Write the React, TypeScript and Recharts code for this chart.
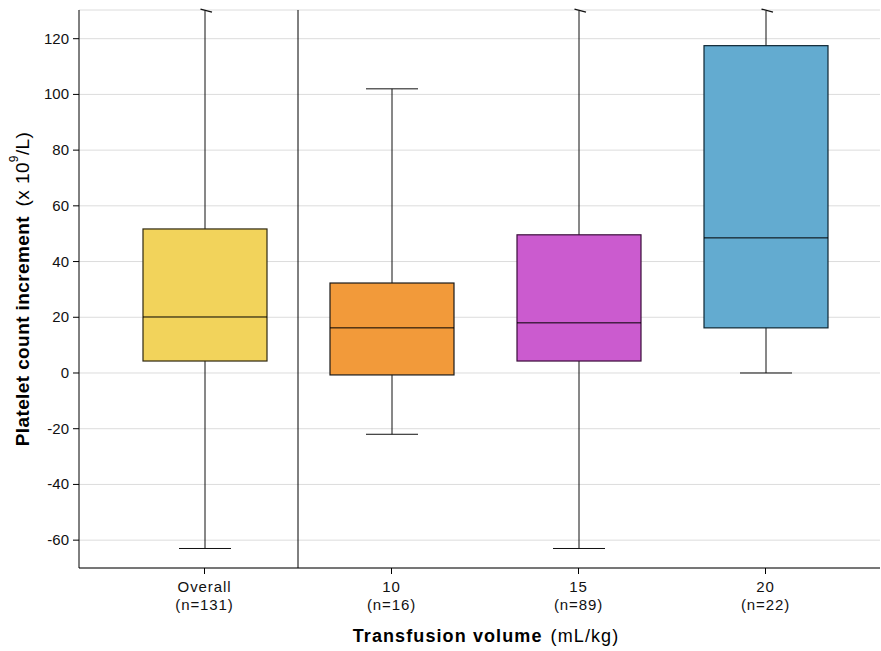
import { Bar, CartesianGrid, Cell, ComposedChart, XAxis, YAxis } from "recharts";

const groups = ["Overall", "10", "15", "20"];
const counts = [131, 16, 89, 22];
const lowers = [-63, -22, -63, 0];
const q1s = [4.3, -0.7, 4.3, 16.2];
const medians = [20.1, 16.2, 18, 48.5];
const q3s = [51.7, 32.3, 49.6, 117.5];
const uppers = [130, 102, 130, 130];
const truncated = [true, false, true, true];
const fills = ["#f2d35b", "#f29a3a", "#cb5bcf", "#63abd0"];
const strokes = ["#2e2812", "#1a1a1a", "#3a0c3a", "#0e2633"];
const yTicks = [-60, -40, -20, 0, 20, 40, 60, 80, 100, 120];

const data = groups.map((g, i) => ({
  name: g,
  n: counts[i],
  range: [lowers[i], uppers[i]],
  lower: lowers[i],
  q1: q1s[i],
  median: medians[i],
  q3: q3s[i],
  upper: uppers[i],
  cut: truncated[i],
  idx: i,
}));

const FONT = "'Liberation Sans', Arial, sans-serif";

function BoxShape(props: any) {
  const { x, y, width, height, payload, background } = props;
  const p = payload;
  // y maps to upper, y + height maps to lower
  const py = (v: number) => y + ((p.upper - v) / (p.upper - p.lower)) * height;
  const cx = x + width / 2;
  const cap = 26;
  const top = py(p.upper);
  const bot = py(p.lower);
  const i = p.idx;
  return (
    <g>
      {i === 0 && background && (
        <line
          x1={cx + 93}
          x2={cx + 93}
          y1={background.y}
          y2={background.y + background.height}
          stroke="#000"
          strokeWidth={1}
        />
      )}
      <line x1={cx} x2={cx} y1={top} y2={bot} stroke="#111" strokeWidth={1} />
      {p.cut ? (
        <line x1={cx - 4.5} x2={cx + 7} y1={top - 1.8} y2={top + 1.4} stroke="#111" strokeWidth={1.3} />
      ) : (
        <line x1={cx - cap} x2={cx + cap} y1={top} y2={top} stroke="#111" strokeWidth={1} />
      )}
      <line x1={cx - cap} x2={cx + cap} y1={bot} y2={bot} stroke="#111" strokeWidth={1} />
      <rect
        x={x}
        y={py(p.q3)}
        width={width}
        height={py(p.q1) - py(p.q3)}
        fill={fills[i]}
        stroke={strokes[i]}
        strokeWidth={1.2}
      />
      <line x1={x} x2={x + width} y1={py(p.median)} y2={py(p.median)} stroke="#000" strokeWidth={1} />
    </g>
  );
}

function XTick(props: any) {
  const { x, y, payload, index } = props;
  return (
    <text
      x={x}
      y={y}
      textAnchor="middle"
      fontFamily={FONT}
      fontSize={15}
      letterSpacing={0.9}
      fill="#111"
    >
      <tspan x={x} dy={16}>{payload.value}</tspan>
      <tspan x={x} dy={18}>(n={counts[index]})</tspan>
    </text>
  );
}

function YTick(props: any) {
  const { x, y, payload } = props;
  return (
    <text x={x - 2} y={y} dy={5} textAnchor="end" fontFamily={FONT} fontSize={15} fill="#111">
      {payload.value}
    </text>
  );
}

function YLabel(props: any) {
  const vb = props.viewBox;
  const cx = 22;
  const cy = vb.y + vb.height / 2;
  return (
    <text
      x={cx}
      y={cy}
      transform={`rotate(-90, ${cx}, ${cy})`}
      textAnchor="middle"
      dominantBaseline="central"
      fontFamily={FONT}
      fontSize={19}
      letterSpacing={0.4}
      fill="#000"
    >
      <tspan fontWeight="bold">Platelet count increment</tspan>
      <tspan dx={4}>{" (x 10"}</tspan>
      <tspan fontSize={12} dy={-8}>9</tspan>
      <tspan dy={8}>/L)</tspan>
    </text>
  );
}

export default function App() {
  return (
    <div style={{ position: "absolute", left: 0, top: 0, background: "#fff" }}>
      <ComposedChart
        width={881}
        height={651}
        data={data}
        margin={{ top: 10, right: 1, bottom: 0, left: 0 }}
      >
        <CartesianGrid vertical={false} stroke="#dcdcdc" strokeWidth={1} />
        <XAxis
          dataKey="name"
          height={83}
          padding={{ left: 32, right: 21 }}
          tick={<XTick />}
          tickLine={{ stroke: "#000" }}
          axisLine={{ stroke: "#000" }}
          tickSize={6}
          interval={0}
        />
        <YAxis
          type="number"
          domain={[-70, 130.3]}
          ticks={yTicks}
          width={79}
          tickSize={6}
          tickLine={{ stroke: "#000" }}
          axisLine={{ stroke: "#000" }}
          tick={<YTick />}
          label={<YLabel />}
        />
        <Bar dataKey="range" barSize={124} shape={<BoxShape />} isAnimationActive={false}>
          {data.map((d) => (
            <Cell key={d.name} fill={fills[d.idx]} />
          ))}
        </Bar>
        <text
          x={486}
          y={642}
          textAnchor="middle"
          fontFamily={FONT}
          fontSize={18}
          letterSpacing={1.1}
          fill="#000"
        >
          <tspan fontWeight="bold">Transfusion volume</tspan>
          <tspan dx={2}>{" (mL/kg)"}</tspan>
        </text>
      </ComposedChart>
    </div>
  );
}
